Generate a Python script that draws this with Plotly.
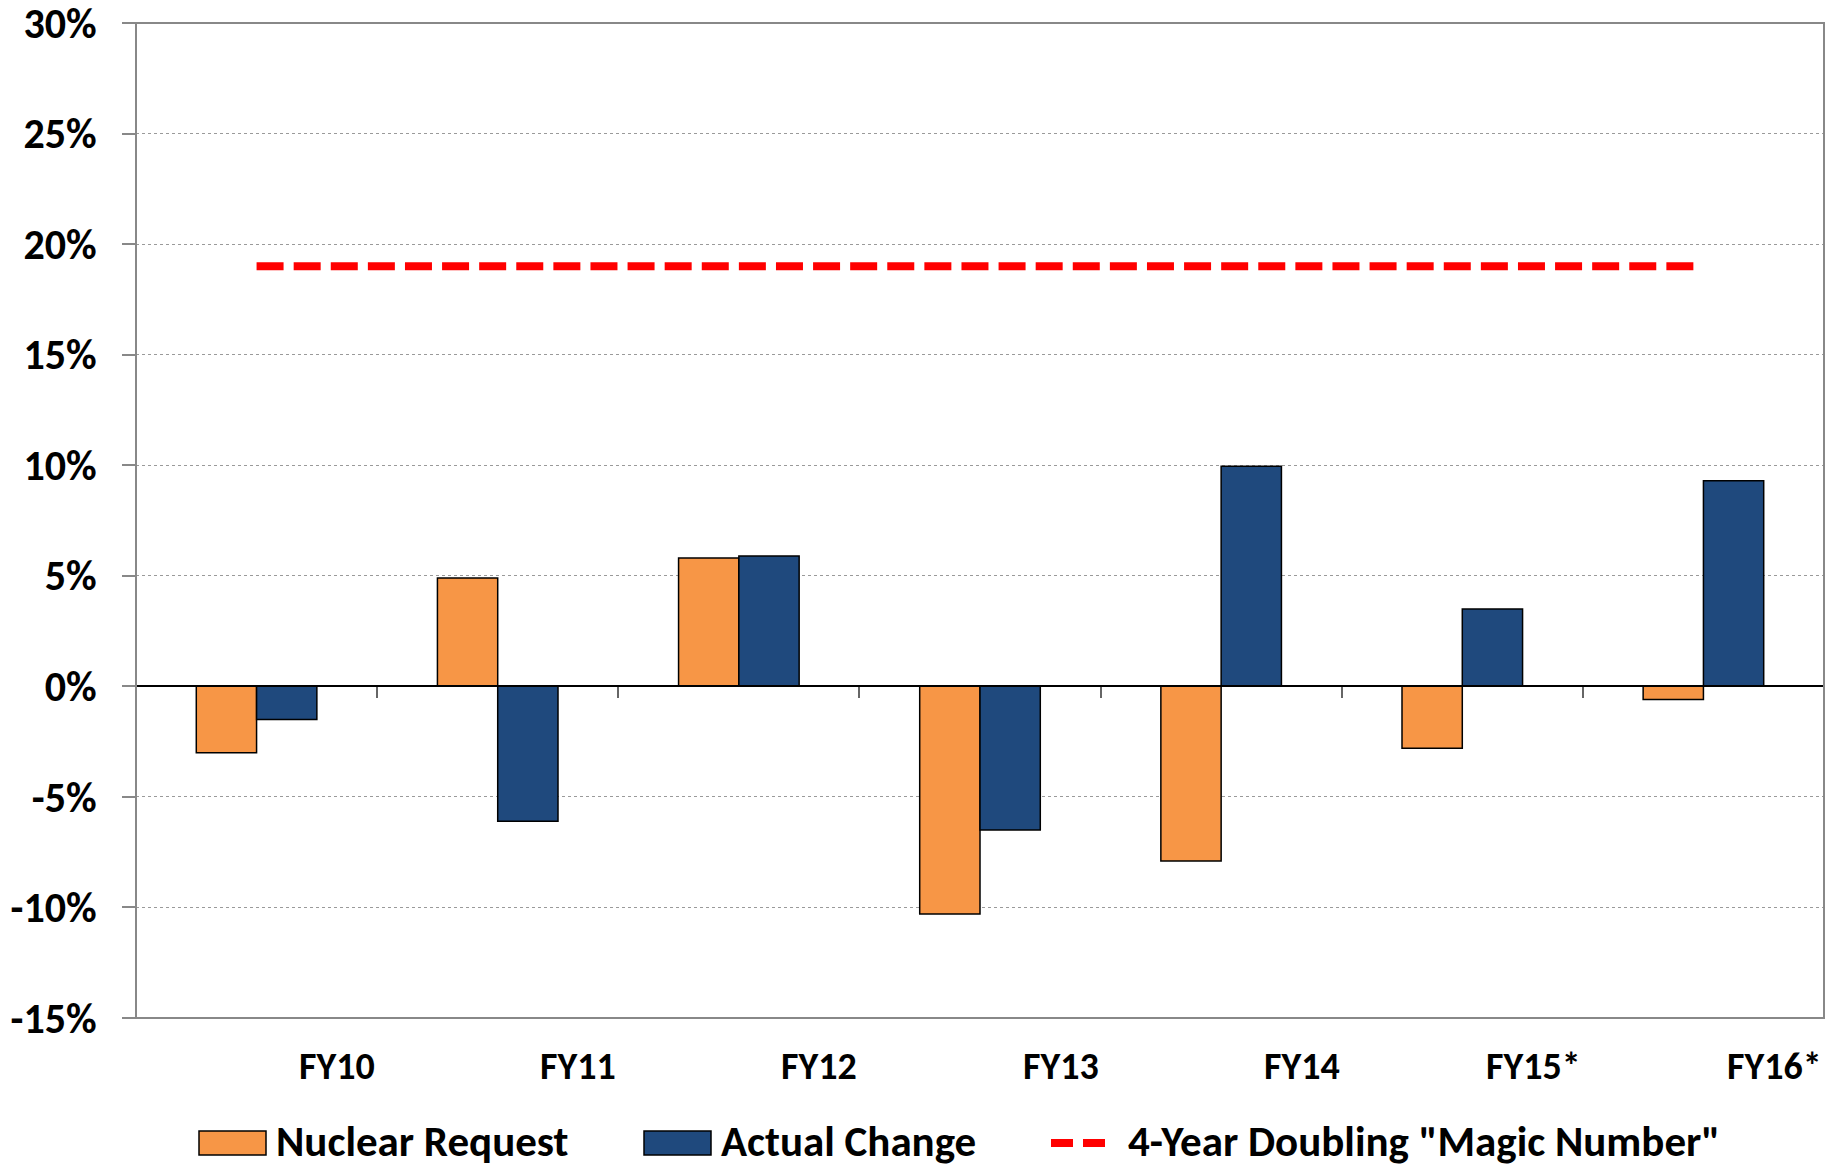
import plotly.graph_objects as go

categories = ["FY10", "FY11", "FY12", "FY13", "FY14", "FY15*", "FY16*"]
nuclear_request = [-3.0, 4.9, 5.8, -10.3, -7.9, -2.8, -0.6]
actual_change = [-1.5, -6.1, 5.9, -6.5, 9.95, 3.5, 9.3]
magic_number = [19.0] * 7
y_ticks = [-15, -10, -5, 0, 5, 10, 15, 20, 25, 30]
y_tick_labels = ["-15%", "-10%", "-5%", "0%", "5%", "10%", "15%", "20%", "25%", "30%"]

ORANGE = "#F79646"
BLUE = "#1F497D"
RED = "#FF0000"
FONT = "Carlito, Open Sans, sans-serif"

W, H = 1839, 1166
L, R, T, B = 136, 15, 23, 148
PW, PH = W - L - R, H - T - B

def px(x):
    return (x - L) / PW

def py(y):
    return (H - B - y) / PH

fig = go.Figure()
fig.add_trace(go.Bar(x=categories, y=nuclear_request, name="Nuclear Request",
                     marker=dict(color=ORANGE, line=dict(color="black", width=1.5)),
                     showlegend=False))
fig.add_trace(go.Bar(x=categories, y=actual_change, name="Actual Change",
                     marker=dict(color=BLUE, line=dict(color="black", width=1.5)),
                     showlegend=False))
fig.add_trace(go.Scatter(x=categories, y=magic_number, mode="lines",
                         name='4-Year Doubling "Magic Number"',
                         line=dict(color=RED, width=8, dash="27px,10.1px"),
                         showlegend=False))

# frame
fig.add_shape(type="rect", xref="paper", yref="paper", x0=0, x1=1, y0=0, y1=1,
              line=dict(color="#888888", width=2), layer="above")

# x labels right-aligned at category boundaries
for i, c in enumerate(categories):
    fig.add_annotation(x=(i + 1) / 7, y=0, xref="paper", yref="paper",
                       text=c, showarrow=False, xanchor="right", yanchor="middle",
                       yshift=-48, font=dict(family=FONT, size=38, color="black",
                                             weight="bold"))

# custom legend
legend_y = 1141
items = [
    ("rect", ORANGE, 199, 266, 274, "Nuclear Request"),
    ("rect", BLUE, 644, 711, 719, "Actual Change"),
    ("line", RED, 1047, 1110, 1126, '4-Year Doubling "Magic Number"'),
]
for kind, col, x0, x1, tx, label in items:
    if kind == "rect":
        fig.add_shape(type="rect", xref="paper", yref="paper",
                      x0=px(x0), x1=px(x1), y0=py(legend_y + 14), y1=py(legend_y - 10),
                      fillcolor=col, line=dict(color="black", width=1.5))
    else:
        fig.add_shape(type="line", xref="paper", yref="paper",
                      x0=px(x0 + 4), x1=px(x1 - 4), y0=py(legend_y + 2), y1=py(legend_y + 2),
                      line=dict(color=col, width=8, dash="22px,10px"))
    fig.add_annotation(x=px(tx), y=py(legend_y), xref="paper", yref="paper",
                       text=label, showarrow=False, xanchor="left", yanchor="middle",
                       font=dict(family=FONT, size=43, color="black", weight="bold"))

fig.update_layout(
    width=W, height=H,
    margin=dict(l=L, r=R, t=T, b=B, pad=0, autoexpand=False),
    paper_bgcolor="white", plot_bgcolor="white",
    barmode="group", bargap=0.5, bargroupgap=0,
    xaxis=dict(type="category", range=[-0.5, 6.5], anchor="free", position=1/3,
               showline=True, linecolor="black", linewidth=1.5, automargin=False,
               ticks="outside", tickson="boundaries", ticklen=11, tickcolor="#666666",
               tickwidth=1.5, showticklabels=False, showgrid=False, zeroline=False),
    yaxis=dict(range=[-15, 30], tickvals=y_ticks, ticktext=y_tick_labels,
               automargin=False, ticklabelstandoff=17, ticklabeloverflow="allow",
               showgrid=True, gridcolor="#9a9a9a", griddash="dot", gridwidth=1,
               zeroline=False, showline=False, ticks="outside", ticklen=13,
               tickcolor="#888888", tickwidth=1.5,
               tickfont=dict(family=FONT, size=42, color="black", weight="bold")),
)

fig.write_html("out.html", config={"displayModeBar": False},
               post_script="document.body.style.margin='0';document.body.style.overflow='hidden';")
